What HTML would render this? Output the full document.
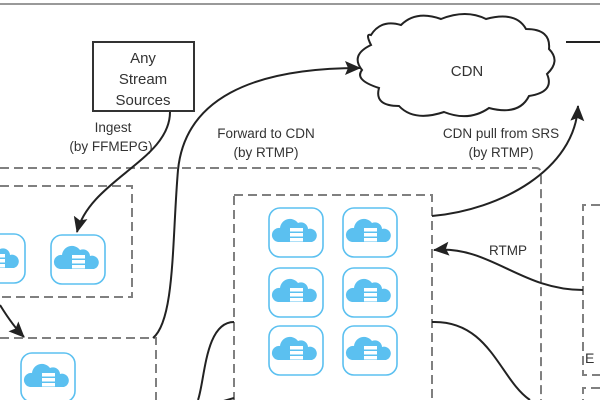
<!DOCTYPE html>
<html><head><meta charset="utf-8"><style>
html,body{margin:0;padding:0;background:#fff;width:600px;height:400px;overflow:hidden}
text{font-family:"Liberation Sans",sans-serif;fill:#333}
</style></head><body>
<svg width="600" height="400" viewBox="0 0 600 400" xmlns="http://www.w3.org/2000/svg">
<defs>
<marker id="a" markerWidth="16" markerHeight="14" refX="15" refY="7" orient="auto" markerUnits="userSpaceOnUse">
<path d="M0,0 L16,7 L0,14 L3,7 z" fill="#222"/></marker>
<g id="ic">
<rect x="1" y="1" width="54" height="49" rx="11" fill="#fff" stroke="#5bc0f0" stroke-width="1.6"/>
<path d="M10,35 a7,7 0 0 1 2,-14 a10,10 0 0 1 18,-5 a7,7 0 0 1 10,6 a6.5,6.5 0 0 1 4,13 z" fill="#5bc0f0"/>
<rect x="22" y="21" width="13" height="3.5" fill="#fff"/>
<rect x="22" y="26" width="13" height="3.5" fill="#fff"/>
<rect x="22" y="31" width="13" height="3.5" fill="#fff"/>
</g>
</defs>
<line x1="0" y1="4" x2="600" y2="4" stroke="#999" stroke-width="2"/>
<g fill="none" stroke="#808080" stroke-width="2" stroke-dasharray="9,5">
<path d="M0,168 H536 Q541,168 541,174 V400"/>
<path d="M0,186 H132 V297 H0"/>
<path d="M0,338 H156 V400"/>
<rect x="234" y="195" width="198" height="220"/>
<path d="M600,205 H583 V375 H600"/>
<path d="M600,388 H583 V400"/>
</g>
<rect x="93" y="42" width="101" height="69" fill="#fff" stroke="#333" stroke-width="2"/>
<text x="143" y="63" font-size="15" text-anchor="middle">Any</text>
<text x="143" y="84" font-size="15" text-anchor="middle">Stream</text>
<text x="143" y="105" font-size="15" text-anchor="middle">Sources</text>
<path d="M371,35 q10,-16 30,-10 q15,-15 40,-6 q25,-10 45,0 q30,-8 40,10 q25,0 23,20 q12,12 -2,25 q8,18 -18,22 q-10,20 -40,12 q-20,14 -45,4 q-30,10 -45,-6 q-25,0 -20,-18 q-25,-8 -17,-18 q-12,-15 9,-25 q-6,-12 0,-10z" fill="#fff" stroke="#222" stroke-width="2"/>
<text x="467" y="76" font-size="15" text-anchor="middle">CDN</text>
<g font-size="13.5" text-anchor="middle">
<text x="113" y="132">Ingest</text>
<text x="111" y="151">(by FFMEPG)</text>
<text x="266" y="138">Forward to CDN</text>
<text x="266" y="157">(by RTMP)</text>
<text x="501" y="138">CDN pull from SRS</text>
<text x="501" y="157">(by RTMP)</text>
<text x="508" y="255">RTMP</text>
</g>
<g fill="none" stroke="#222" stroke-width="2">
<path d="M170,112 C170,160 90,180 77,232" marker-end="url(#a)"/>
<path d="M153,338 C175,320 172,240 178,170 C185,100 250,68 360,68" marker-end="url(#a)"/>
<path d="M432,216 C500,210 575,170 578,106" marker-end="url(#a)"/>
<path d="M566,42 H600"/>
<path d="M583,290 C520,290 490,245 434,250" marker-end="url(#a)"/>
<path d="M432,322 C490,320 500,380 530,400"/>
<path d="M234,322 C205,322 205,380 198,400"/>
<path d="M0,305 C8,318 15,328 24,337" marker-end="url(#a)"/>
<path d="M234,398 L220,402"/>
</g>
<use href="#ic" x="-30" y="233"/>
<use href="#ic" x="50" y="234"/>
<use href="#ic" x="20" y="352"/>
<use href="#ic" x="268" y="207"/>
<use href="#ic" x="342" y="207"/>
<use href="#ic" x="268" y="267"/>
<use href="#ic" x="342" y="267"/>
<use href="#ic" x="268" y="325"/>
<use href="#ic" x="342" y="325"/>
<text x="585" y="363" font-size="14">E</text>
</svg>
</body></html>
